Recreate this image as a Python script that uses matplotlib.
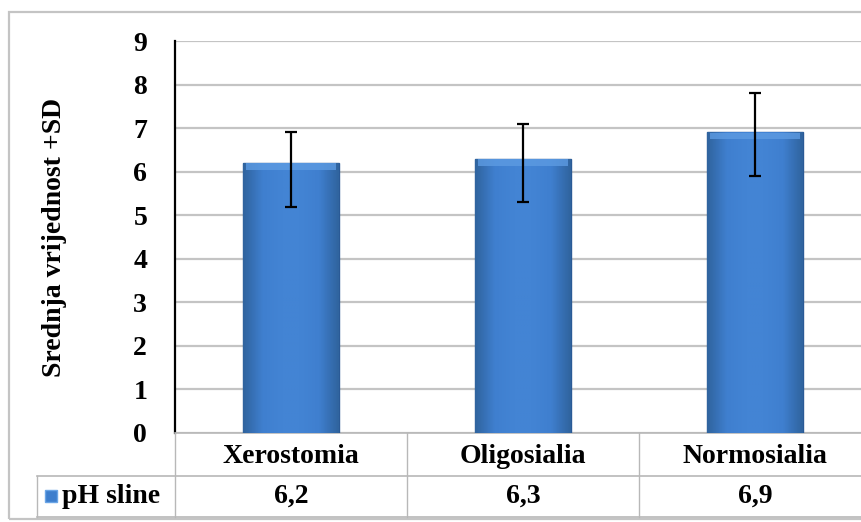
import numpy as np
import matplotlib
matplotlib.use("Agg")
import matplotlib.pyplot as plt
from matplotlib.patches import Rectangle
from matplotlib.lines import Line2D
from matplotlib.transforms import blended_transform_factory
from matplotlib.colors import LinearSegmentedColormap

# ---- data ----
categories = ["Xerostomia", "Oligosialia", "Normosialia"]
means = [6.2, 6.3, 6.9]
sd_lower = [1.0, 1.0, 1.0]
sd_upper = [0.7, 0.8, 0.9]
series_name = "pH sline"
yticks = [0, 1, 2, 3, 4, 5, 6, 7, 8, 9]
ylabel = "Srednja vrijednost +SD"

W, H = 862, 522
FS = 20
plt.rcParams['font.family'] = ['Liberation Serif', 'DejaVu Serif']
plt.rcParams['font.weight'] = 'bold'

fig = plt.figure(figsize=(W / 100, H / 100), dpi=100)

def fx(x):
    return x / W

def fy(y):
    return 1 - y / H

# outer chart frame
fig.patches.append(Rectangle((fx(9), fy(519)), fx(900) - fx(9), fy(12) - fy(519),
                             transform=fig.transFigure, fill=False,
                             edgecolor='#c4c4c4', linewidth=1.6))

ax_left, ax_right, ax_top, ax_bot = 175, 871, 41, 433
ax = fig.add_axes([fx(ax_left), fy(ax_bot), fx(ax_right) - fx(ax_left), fy(ax_top) - fy(ax_bot)])

x = np.arange(len(categories))
bars = ax.bar(x, means, width=0.41, color='#3d7ecd', edgecolor='#2a5a96', linewidth=1.0, zorder=3)

# gradient shading inside bars
cmap = LinearSegmentedColormap.from_list('bev', ['#30649f', '#3f7fcf', '#4384d4', '#4384d4', '#3f7fcf', '#30649f'])
grad = np.linspace(0, 1, 64).reshape(1, -1)
for b in bars:
    x0, y0 = b.get_x(), b.get_y()
    w, h = b.get_width(), b.get_height()
    im = ax.imshow(grad, cmap=cmap, extent=[x0, x0 + w, y0, y0 + h], aspect='auto', zorder=3.5)
    im.set_clip_path(b)
    ax.add_patch(Rectangle((x0 + 0.012, y0 + h - 0.16), w - 0.024, 0.15, facecolor='#5d9be2',
                           edgecolor='none', zorder=3.6, alpha=0.8))

ax.errorbar(x, means, yerr=[sd_lower, sd_upper], fmt='none', ecolor='black',
            elinewidth=1.6, capsize=4, capthick=1.6, zorder=5)

ax.set_xlim(-0.5, len(categories) - 0.5)
ax.set_ylim(min(yticks), max(yticks))
ax.set_yticks(yticks)
ax.set_xticks([])
ax.yaxis.grid(True, color='#c4c4c4', linewidth=1.6, zorder=0)
ax.set_axisbelow(True)
ax.tick_params(axis='y', length=0, pad=20, labelsize=FS)
for lab in ax.get_yticklabels():
    lab.set_fontweight('bold')
ax.spines['top'].set_visible(False)
ax.spines['right'].set_visible(False)
ax.spines['left'].set_linewidth(1.6)
ax.spines['left'].set_color('black')
ax.spines['bottom'].set_color('#b8b8b8')
ax.spines['bottom'].set_linewidth(1.2)

fig.text(fx(55), fy(237), ylabel, rotation=90, ha='center', va='center',
         fontsize=FS, fontweight='bold')

# ---- data table ----
tr = blended_transform_factory(ax.transData, fig.transFigure)
grid_c = '#b8b8b8'
row1_top, row1_bot, row2_bot = 433, 476, 517
edges = np.arange(len(categories) + 1) - 0.5
for e in edges:
    fig.lines.append(Line2D([e, e], [fy(row1_top), fy(row2_bot)], transform=tr,
                            color=grid_c, linewidth=1.0))
fig.lines.append(Line2D([fx(37), fx(900)], [fy(row1_bot), fy(row1_bot)],
                        transform=fig.transFigure, color=grid_c, linewidth=1.2))
fig.lines.append(Line2D([fx(37), fx(900)], [fy(row2_bot), fy(row2_bot)],
                        transform=fig.transFigure, color=grid_c, linewidth=1.2))
fig.lines.append(Line2D([fx(37), fx(37)], [fy(row1_bot), fy(row2_bot)],
                        transform=fig.transFigure, color=grid_c, linewidth=1.0))

for i, c in enumerate(categories):
    fig.text(x[i], fy((row1_top + row1_bot) / 2 + 2), c, transform=tr, ha='center', va='center',
             fontsize=FS, fontweight='bold')
    fig.text(x[i], fy((row1_bot + row2_bot) / 2), f"{means[i]:.1f}".replace('.', ','),
             transform=tr, ha='center', va='center', fontsize=FS, fontweight='bold')

# legend key + series name
fig.patches.append(Rectangle((fx(45), fy(502)), fx(57) - fx(45), fy(490) - fy(502),
                             transform=fig.transFigure, facecolor='#3d7ecd',
                             edgecolor='#6aa5e6', linewidth=1.0))
fig.text(fx(62), fy((row1_bot + row2_bot) / 2), series_name, ha='left', va='center',
         fontsize=FS, fontweight='bold')

fig.savefig('out.png', dpi=100)
